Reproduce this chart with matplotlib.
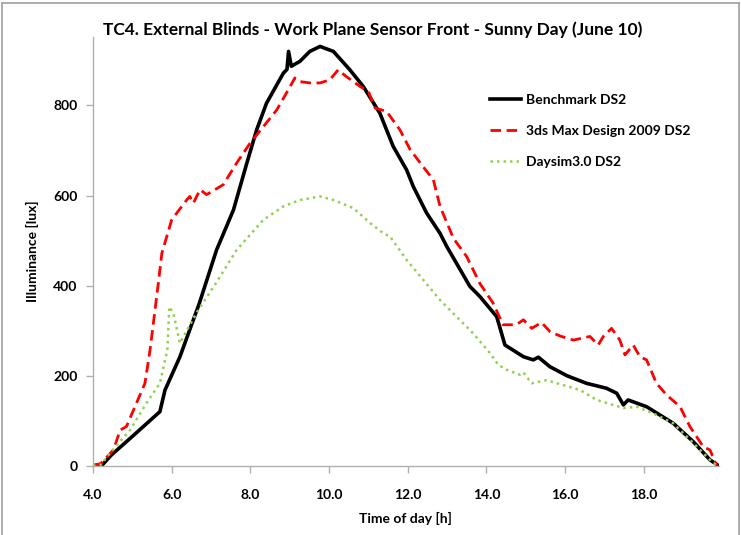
import matplotlib.pyplot as plt
from matplotlib.lines import Line2D

# Benchmark DS2
bench_t = [4.0, 4.25, 4.47, 5.0, 5.70, 5.83, 6.21, 6.7, 7.14, 7.57, 7.91, 8.16, 8.41, 8.84, 8.93,
           8.97, 9.04, 9.26, 9.51, 9.77, 10.11, 10.53, 10.87, 11.29, 11.63, 11.97, 12.14, 12.48,
           12.82, 12.99, 13.58, 13.83, 14.26, 14.47, 14.94, 15.19, 15.32, 15.61, 16.04, 16.54,
           17.05, 17.31, 17.48, 17.60, 18.07, 18.75, 19.26, 19.68, 19.9]
bench_lux = [0, 3, 24, 65, 120, 168, 242, 360, 479, 568, 672, 746, 805, 872, 880,
             920, 887, 898, 920, 931, 920, 879, 842, 783, 709, 657, 620, 561,
             516, 487, 398, 376, 331, 268, 242, 235, 241, 220, 200, 183,
             172, 161, 135, 146, 131, 94, 53, 13, 0]

# 3ds Max Design 2009 DS2
max_t = [4.0, 4.2, 4.52, 4.69, 4.85, 5.32, 5.45, 5.66, 5.75, 6.0, 6.38, 6.46, 6.55, 6.72, 6.89,
         7.31, 7.65, 7.99, 8.33, 8.67, 9.01, 9.13, 9.26, 9.51, 9.77, 10.02, 10.23, 10.44, 10.79,
         11.0, 11.17, 11.46, 11.80, 12.06, 12.39, 12.65, 12.82, 13.16, 13.5, 13.83, 14.17, 14.42,
         14.76, 14.94, 15.15, 15.40, 15.61, 15.87, 16.21, 16.63, 16.84, 16.97, 17.18, 17.39,
         17.52, 17.73, 17.9, 18.07, 18.32, 18.58, 18.92, 19.17, 19.51, 19.68, 19.85]
max_lux = [0, 5, 35, 79, 87, 183, 257, 405, 472, 546, 590, 598, 583, 613, 602,
           624, 672, 716, 753, 790, 842, 861, 853, 850, 850, 857, 879, 864, 842,
           831, 794, 787, 746, 702, 664, 635, 576, 505, 464, 405, 361, 313,
           313, 324, 305, 318, 298, 288, 279, 287, 268, 287, 305, 279,
           246, 268, 242, 235, 183, 157, 131, 87, 42, 35, 0]

# Daysim3.0 DS2
daysim_t = [4.0, 4.2, 4.43, 4.94, 5.36, 5.70, 5.89, 5.94, 6.04, 6.21, 6.30, 6.63, 7.23, 7.65,
            8.33, 8.84, 9.26, 9.77, 10.11, 10.62, 11.04, 11.38, 11.55, 11.97, 12.39, 12.82,
            13.24, 13.66, 14.09, 14.30, 14.51, 14.85, 14.94, 15.15, 15.53, 15.95, 16.38, 16.80,
            17.22, 17.48, 17.82, 18.24, 18.75, 19.26, 19.77, 19.9]
daysim_lux = [0, 2, 28, 79, 139, 183, 257, 353, 339, 272, 287, 339, 420, 479,
              546, 576, 590, 598, 590, 572, 539, 516, 509, 457, 413, 368,
              331, 294, 250, 224, 213, 202, 207, 183, 190, 179, 168, 146,
              135, 128, 131, 116, 94, 50, 5, 0]

xticks = [4, 6, 8, 10, 12, 14, 16, 18]
yticks = [0, 200, 400, 600, 800]

plt.rcParams['font.family'] = ['Lato', 'DejaVu Sans']
plt.rcParams['font.weight'] = 'bold'

fig = plt.figure(figsize=(7.41, 5.35), dpi=100)
ax = fig.add_axes([93 / 741, 1 - 465.7 / 535, (718.6 - 93) / 741, (465.7 - 37) / 535])

ax.plot(bench_t, bench_lux, color='black', lw=2.6, label='Benchmark DS2')
ax.plot(max_t, max_lux, color='#ff0000', lw=2.0, dashes=(3.8, 2), label='3ds Max Design 2009 DS2')
ax.plot(daysim_t, daysim_lux, color='#92d050', lw=1.8, dashes=(1, 1.6), label='Daysim3.0 DS2')

ax.set_xlim(4, 19.9)
ax.set_ylim(0, 952)
ax.set_xticks(xticks)
ax.set_xticklabels([f'{t:.1f}' for t in xticks])
ax.set_yticks(yticks)

for s in ['top', 'right']:
    ax.spines[s].set_visible(False)
for s in ['left', 'bottom']:
    ax.spines[s].set_color('#b0b0b0')
    ax.spines[s].set_linewidth(1)
ax.tick_params(axis='both', colors='#b0b0b0', labelcolor='black', labelsize=10, length=5, width=1)
ax.tick_params(axis='x', pad=12)
ax.tick_params(axis='y', pad=6)

ax.set_xlabel('Time of day [h]', fontsize=10, fontweight='bold', labelpad=8)
ax.set_ylabel('Illuminance [lux]', fontsize=10, fontweight='bold', labelpad=10)

fig.text(373 / 741, 1 - 30 / 535, 'TC4. External Blinds - Work Plane Sensor Front - Sunny Day (June 10)',
         ha='center', va='center', fontsize=12.5, fontweight='bold')

ax.legend(loc='upper left', bbox_to_anchor=(490 / 741, 1 - 94 / 535), bbox_transform=fig.transFigure,
          frameon=False, borderpad=0, borderaxespad=0, handlelength=2.2, handletextpad=0.4,
          labelspacing=1.35, prop={'size': 10, 'weight': 'bold'})

# grey chart border
for xs, ys in [([0.003, 0.997], [0.994, 0.994]), ([0.003, 0.003], [0.994, 0]), ([0.997, 0.997], [0.994, 0])]:
    fig.add_artist(Line2D(xs, ys, transform=fig.transFigure, color='#a0a0a0', lw=1.2))

fig.savefig('out.png', dpi=100)
